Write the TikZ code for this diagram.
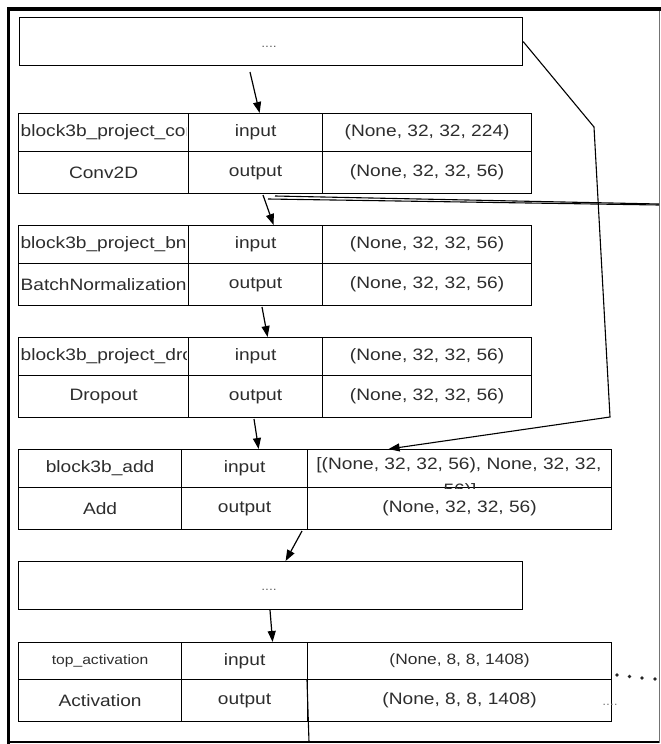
\documentclass[tikz,border=0pt]{standalone}
\usepackage{fontspec}
\setmainfont{Liberation Sans}[FakeStretch=1.16]
\usetikzlibrary{arrows.meta}
\definecolor{txt}{RGB}{45,45,45}
\newcommand{\mkcell}[6]{\node[box, minimum width=#4pt, minimum height=#5pt] (#1) at (#2,#3) {#6};}
\begin{document}
\begin{tikzpicture}[x=1pt,y=-1pt,
  box/.style={draw=black, line width=1.2pt, inner sep=0pt, anchor=north west, text=txt, font=\fontsize{16.5}{19}\selectfont},
  lbl/.style={inner sep=0pt, text=txt, font=\fontsize{16.5}{19}\selectfont},
  dotstxt/.style={inner sep=0pt, text=black!60, font=\fontsize{12}{13}\selectfont},
  arr/.style={line width=1.2pt, -{Triangle[length=11pt,width=8pt]}},
  conn/.style={line width=1.1pt}]
\useasboundingbox (0,0) rectangle (661,744);
% frame
\draw[black!55, line width=0.9pt] (9,9) rectangle (659,742);
\draw[black, line width=3.5pt] (8.5,744) -- (8.5,9) -- (661,9);
\draw[black, line width=1.6pt] (8.5,742) -- (659,742);

% top dotted box
\node[box, minimum width=503pt, minimum height=48pt] (dotsA) at (19,17) {};
\node[dotstxt] (dotsAT) at (269,47) {....};

% table 1
\mkcell{t1a}{18}{113}{170}{38}{}
\mkcell{t1b}{188}{113}{134}{38}{input}
\mkcell{t1c}{322}{113}{209}{38}{(None, 32, 32, 224)}
\mkcell{t1d}{18}{151}{170}{42}{Conv2D}
\mkcell{t1e}{188}{151}{134}{42}{output}
\mkcell{t1f}{322}{151}{209}{42}{(None, 32, 32, 56)}
\begin{scope}
\clip (t1a.north west) rectangle ([xshift=-2.5pt]t1a.south east);
\node[lbl, anchor=west] (t1aT) at ([xshift=2.5pt]t1a.west) {block3b\_project\_conv};
\end{scope}

% table 2
\mkcell{t2a}{18}{225}{170}{38}{block3b\_project\_bn}
\mkcell{t2b}{188}{225}{134}{38}{input}
\mkcell{t2c}{322}{225}{209}{38}{(None, 32, 32, 56)}
\mkcell{t2d}{18}{263}{170}{42}{BatchNormalization}
\mkcell{t2e}{188}{263}{134}{42}{output}
\mkcell{t2f}{322}{263}{209}{42}{(None, 32, 32, 56)}

% table 3
\mkcell{t3a}{18}{337}{170}{38}{}
\mkcell{t3b}{188}{337}{134}{38}{input}
\mkcell{t3c}{322}{337}{209}{38}{(None, 32, 32, 56)}
\mkcell{t3d}{18}{375}{170}{42}{Dropout}
\mkcell{t3e}{188}{375}{134}{42}{output}
\mkcell{t3f}{322}{375}{209}{42}{(None, 32, 32, 56)}
\begin{scope}
\clip (t3a.north west) rectangle ([xshift=-2.5pt]t3a.south east);
\node[lbl, anchor=west] (t3aT) at ([xshift=2.5pt]t3a.west) {block3b\_project\_dropout};
\end{scope}

% table 4
\mkcell{t4a}{18}{449}{163}{38}{block3b\_add}
\mkcell{t4b}{181}{449}{126}{38}{input}
\mkcell{t4c}{307}{449}{304}{38}{}
\mkcell{t4d}{18}{487}{163}{42}{Add}
\mkcell{t4e}{181}{487}{126}{42}{output}
\mkcell{t4f}{307}{487}{304}{42}{(None, 32, 32, 56)}
\begin{scope}
\clip (t4c.north west) rectangle (t4c.south east);
\node[lbl, anchor=base] (t4cT) at (459,469) {[(None, 32, 32, 56), None, 32, 32,};
\node[lbl, anchor=base] (t4cU) at (460,495) {56)]};
\end{scope}

% bottom dotted box
\node[box, minimum width=504pt, minimum height=48pt] (dotsB) at (18,561) {};
\node[dotstxt] (dotsBT) at (269,590) {....};

% table 5
\mkcell{t5a}{18}{642}{163}{37}{\fontsize{13.5}{15}\selectfont top\_activation}
\mkcell{t5b}{181}{642}{126}{37}{input}
\mkcell{t5c}{307}{642}{304}{37}{\fontsize{15}{17}\selectfont (None, 8, 8, 1408)}
\mkcell{t5d}{18}{679}{163}{42}{Activation}
\mkcell{t5e}{181}{679}{126}{42}{output}
\mkcell{t5f}{307}{679}{304}{42}{(None, 8, 8, 1408)}

% dots to the right of table 5
\foreach \px/\py [count=\i] in {617/675, 629.5/676.5, 642/678, 655/679}
  \fill[black!85] (\px,\py) circle (1.8pt);
\node[dotstxt, text=black!50] (sideT) at (610,705) {....};

% connectors
\coordinate (a1s) at (250,72);
\draw[arr] (a1s) -- ([xshift=4pt]t1b.north);
\coordinate (a2s) at (263,195);
\draw[arr] (a2s) -- ([xshift=18pt]t2b.north);
\coordinate (a3s) at (262,307);
\draw[arr] (a3s) -- ([xshift=12pt]t3b.north);
\coordinate (a4s) at (254,419);
\draw[arr] (a4s) -- ([xshift=14pt]t4b.north);
\coordinate (a5s) at (302,531);
\draw[arr] (a5s) -- ([xshift=15pt]dotsB.north);
\coordinate (a6s) at (270,610);
\draw[arr] (a6s) -- ([xshift=28pt]t5b.north);
\coordinate (bot) at (309,742);
\draw[conn] (t5c.south west) -- (bot);

% skip connection from top box to add
\coordinate (r1) at (594,127);
\coordinate (r2) at (610,417);
\draw[line width=1.1pt, -{Triangle[length=11pt,width=8pt]}] (dotsA.east) -- (r1) -- (r2) -- ([xshift=-71pt]t4c.north);

% double line leaving to the right
\coordinate (d1s) at (275,196);
\coordinate (d2s) at (268,199);
\coordinate (d1e) at (659,204);
\coordinate (d2e) at (659,205);
\draw[conn] (d1s) -- (d1e);
\draw[conn] (d2s) -- (d2e);
\end{tikzpicture}
\end{document}
